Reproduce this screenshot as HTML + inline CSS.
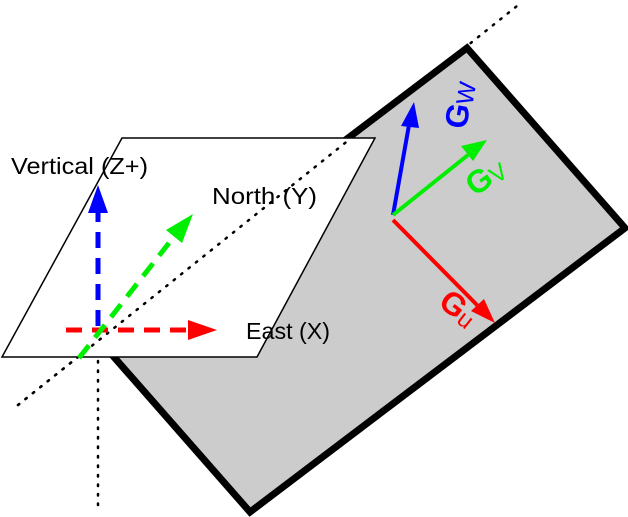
<!DOCTYPE html>
<html><head><style>body{margin:0;background:#fff}svg{display:block}</style></head><body>
<svg width="628" height="517" viewBox="0 0 628 517" xmlns="http://www.w3.org/2000/svg" font-family="Liberation Sans, sans-serif">
<polygon points="467,48 625,228 250,512 92,332" fill="#cccccc" stroke="#000" stroke-width="7" stroke-linejoin="miter"/>
<line x1="18" y1="405" x2="522" y2="2" stroke="#000" stroke-width="2.5" stroke-dasharray="1.5,8" stroke-linecap="round"/>
<polygon points="122,138 375,138 257,357 2,357" fill="#fff" stroke="#000" stroke-width="1.5"/>
<line x1="18" y1="405" x2="350" y2="139" stroke="#000" stroke-width="2.5" stroke-dasharray="1.5,8" stroke-linecap="round"/>
<line x1="98" y1="361" x2="98" y2="505" stroke="#000" stroke-width="2.5" stroke-dasharray="1.5,8" stroke-linecap="round"/>
<line x1="98" y1="326" x2="98" y2="213" stroke="#0000ff" stroke-width="5" stroke-dasharray="16,10"/>
<polygon points="98,185 88,213 108,213" fill="#0000ff"/>
<line x1="66" y1="330" x2="190" y2="330" stroke="#ff0000" stroke-width="5" stroke-dasharray="16,10"/>
<polygon points="217,330 188,320 188,340" fill="#ff0000"/>
<line x1="79" y1="358" x2="176" y2="234" stroke="#00ee00" stroke-width="5" stroke-dasharray="16,10"/>
<polygon points="193,214 166,230 182,243" fill="#00ee00"/>
<text x="11" y="174" font-size="23" textLength="137" lengthAdjust="spacingAndGlyphs">Vertical (Z+)</text>
<text x="212" y="204" font-size="23" textLength="105" lengthAdjust="spacingAndGlyphs">North (Y)</text>
<text x="246" y="339" font-size="23" textLength="84" lengthAdjust="spacingAndGlyphs">East (X)</text>
<line x1="393" y1="215" x2="409" y2="125" stroke="#0000ff" stroke-width="4"/>
<polygon points="414,102 401,126 419,128" fill="#0000ff"/>
<line x1="393" y1="215" x2="468" y2="155" stroke="#00ee00" stroke-width="4"/>
<polygon points="487,140 461,146 473,161" fill="#00ee00"/>
<line x1="393" y1="220" x2="478" y2="306" stroke="#ff0000" stroke-width="4"/>
<polygon points="495,323 471,311 484,299" fill="#ff0000"/>
<g transform="translate(466,130) rotate(-80)"><text font-size="32" font-weight="bold" fill="#0000ff">G<tspan font-size="24" font-weight="normal" dy="2">W</tspan></text></g>
<g transform="translate(475,197) rotate(-35)"><text font-size="32" font-weight="bold" fill="#00ee00">G<tspan font-size="24" font-weight="normal" dy="2">V</tspan></text></g>
<g transform="translate(437,305) rotate(38)"><text font-size="32" font-weight="bold" fill="#ff0000">G<tspan font-size="24" font-weight="normal" dy="2">u</tspan></text></g>
</svg>
</body></html>
